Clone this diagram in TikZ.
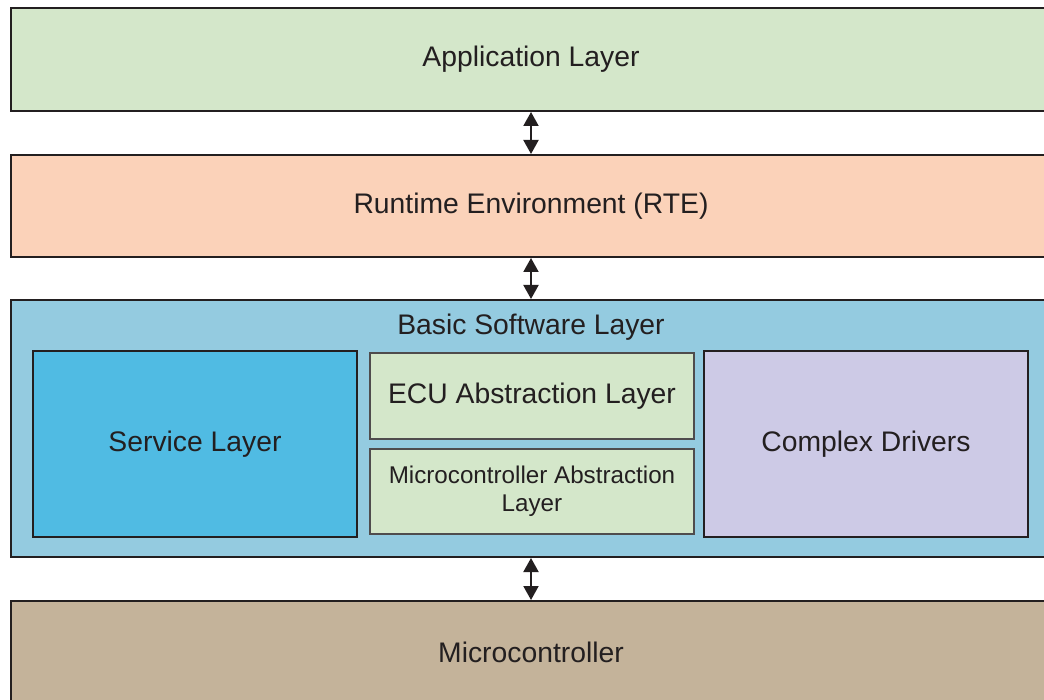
\documentclass[tikz,border=0pt]{standalone}
\usepackage{fontspec}
\setmainfont{Liberation Sans}
\usetikzlibrary{arrows.meta}
\definecolor{inkgray}{HTML}{231F20}
\definecolor{appgreen}{HTML}{D4E7CA}
\definecolor{rtepeach}{HTML}{FBD2B9}
\definecolor{bswblue}{HTML}{94CBE0}
\definecolor{srvblue}{HTML}{50BBE3}
\definecolor{cdvlilac}{HTML}{CDCAE6}
\definecolor{mcutan}{HTML}{C4B39A}
\begin{document}
\begin{tikzpicture}[x=1pt, y=-1pt]
  \path[use as bounding box, clip] (0,0) rectangle (1044,700);  % Bildausschnitt
  \tikzstyle{layer}=[draw=inkgray, line width=2pt, text=inkgray, minimum width=1040pt,
    inner sep=0pt, font=\fontsize{28.3}{33}\selectfont]
  \tikzstyle{module}=[draw=inkgray, line width=2pt, text=inkgray, minimum width=324pt,
    minimum height=186pt, inner sep=0pt, font=\fontsize{28.3}{33}\selectfont]
  \tikzstyle{sublayer}=[draw=inkgray!80, line width=1.5pt, fill=appgreen, text=inkgray,
    minimum width=324pt, inner sep=0pt, align=center]
  \tikzstyle{link}=[{Triangle[length=14pt,width=15pt]}-{Triangle[length=14pt,width=15pt]},
    line width=2pt, draw=inkgray]

  \node[layer, fill=appgreen, minimum height=103pt] (app)  at (531, 59.5)  {Application Layer};
  \node[layer, fill=rtepeach, minimum height=102pt] (rte)  at (531, 206)   {Runtime Environment (RTE)};
  \node[layer, fill=bswblue,  minimum height=257pt] (bsw)  at (531, 428.5) {};
  \node[text=inkgray, font=\fontsize{28.3}{33}\selectfont] (bswtitle) at (531, 327) {Basic Software Layer};
  \node[layer, fill=mcutan,   minimum height=103pt] (mcu)  at (531, 652.5) {Microcontroller};

  \node[module, fill=srvblue]  (srv) at (195, 444) {Service Layer};
  \node[sublayer, minimum height=86pt, font=\fontsize{28.3}{33}\selectfont] (ecual) at (532, 396) {ECU Abstraction Layer};
  \node[sublayer, minimum height=85pt, font=\fontsize{24.2}{28}\selectfont] (mcal) at (532, 491.5) {Microcontroller Abstraction\\Layer};
  \node[module, fill=cdvlilac] (cdd) at (866, 444) {Complex Drivers};

  \draw[link] (app) -- (rte);
  \draw[link] (rte) -- (bsw);
  \draw[link] (bsw) -- (mcu);
\end{tikzpicture}
\end{document}
